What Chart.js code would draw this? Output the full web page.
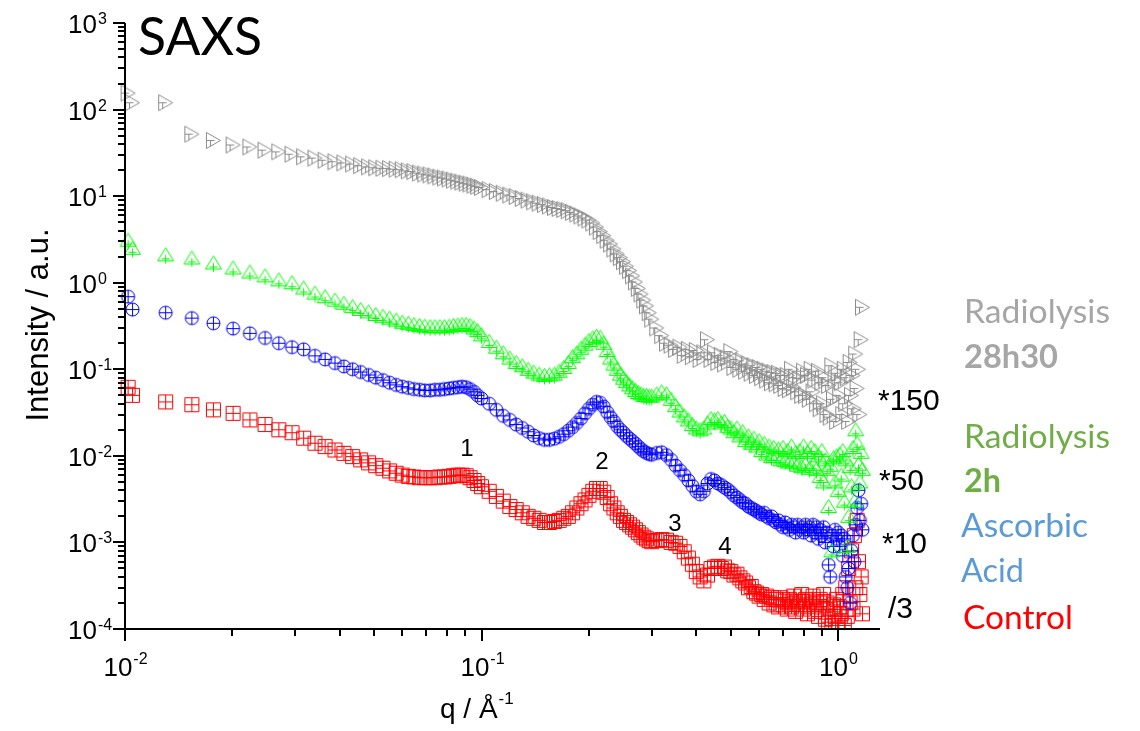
<!DOCTYPE html>
<html>
<head>
<meta charset="utf-8">
<title>SAXS</title>
<script src="https://cdn.jsdelivr.net/npm/chart.js@4.4.1/dist/chart.umd.min.js"></script>
<style>
    html, body { margin: 0; padding: 0; background: #fff; }
    #saxs { display: block; }
</style>
</head>
<body>
<canvas id="saxs" width="1140" height="731"></canvas>
<script>
/**=========================================================
 * SAXS curves, log-log, four samples shifted by a factor
 =========================================================*/

// shared q grid (1/A)
var qValues = [
    0.0102, 0.0105, 0.0130, 0.0154, 0.0177, 0.0201, 0.0224, 0.0247, 0.0270, 0.0294,
    0.0317, 0.0341, 0.0364, 0.0388, 0.0411, 0.0435, 0.0458, 0.0482, 0.0505, 0.0529,
    0.0552, 0.0576, 0.0599, 0.0623, 0.0646, 0.0670, 0.0693, 0.0717, 0.0740, 0.0764,
    0.0787, 0.0811, 0.0834, 0.0858, 0.0881, 0.0905, 0.0928, 0.0952, 0.0975, 0.0999,
    0.105, 0.110, 0.115, 0.120, 0.125, 0.130, 0.135, 0.140, 0.145, 0.150,
    0.155, 0.160, 0.165, 0.170, 0.175, 0.180, 0.185, 0.190, 0.195, 0.200,
    0.205, 0.210, 0.215, 0.220, 0.225, 0.230, 0.235, 0.240, 0.245, 0.250,
    0.255, 0.260, 0.265, 0.270, 0.275, 0.280, 0.285, 0.290, 0.295, 0.300,
    0.31, 0.32, 0.33, 0.34, 0.35, 0.36, 0.37, 0.38, 0.39, 0.40,
    0.41, 0.42, 0.43, 0.44, 0.45, 0.46, 0.47, 0.48, 0.49, 0.50,
    0.51, 0.52, 0.53, 0.54, 0.55, 0.56, 0.57, 0.58, 0.59, 0.60,
    0.61, 0.62, 0.63, 0.64, 0.65, 0.66, 0.67, 0.68, 0.69, 0.70,
    0.71, 0.72, 0.73, 0.74, 0.75, 0.76, 0.77, 0.78, 0.79, 0.80,
    0.81, 0.82, 0.83, 0.84, 0.85, 0.86, 0.87, 0.88, 0.89, 0.90,
    0.91, 0.92, 0.93, 0.94, 0.95, 0.96, 0.97, 0.98, 0.99, 1.00,
    1.01, 1.02, 1.03, 1.04, 1.05, 1.06, 1.07, 1.08, 1.09, 1.10,
    1.11, 1.12, 1.13, 1.14, 1.15, 1.16, 1.17
];

// Radiolysis 28h30 (*150)
var radiolysis28h = [
    155, 120, 120, 52, 44, 39, 37, 34, 32.5, 30.5,
    28.5, 27.5, 26, 25, 24.2, 23.5, 22.5, 21.8, 21.3, 21,
    20.8, 20.5, 20.2, 19.6, 19.2, 18.5, 18, 17.6, 17.1, 16.6,
    16.2, 15.8, 15.3, 14.9, 14.5, 14.1, 13.8, 13.4, 13, 12.6,
    11.9, 11.3, 10.8, 10.3, 9.9, 9.4, 9.0, 8.6, 8.3, 8.0,
    7.7, 7.4, 7.2, 7.0, 6.8, 6.5, 6.2, 5.9, 5.6, 5.3,
    4.9, 4.4, 3.9, 3.5, 3.1, 2.8, 2.45, 2.15, 1.95, 1.75,
    1.55, 1.38, 1.2, 1.02, 0.86, 0.74, 0.63, 0.54, 0.45, 0.38,
    0.30, 0.245, 0.20, 0.19, 0.17, 0.18, 0.145, 0.17, 0.14, 0.165,
    0.13, 0.155, 0.22, 0.13, 0.155, 0.12, 0.145, 0.115, 0.135, 0.16,
    0.105, 0.13, 0.1, 0.125, 0.095, 0.115, 0.09, 0.11, 0.085, 0.105,
    0.08, 0.1, 0.075, 0.095, 0.07, 0.092, 0.068, 0.09, 0.065, 0.085,
    0.06, 0.085, 0.058, 0.1, 0.062, 0.08, 0.055, 0.078, 0.05, 0.095,
    0.05, 0.085, 0.045, 0.1, 0.055, 0.075, 0.04, 0.095, 0.035, 0.07,
    0.04, 0.08, 0.03, 0.065, 0.028, 0.11, 0.045, 0.075, 0.025, 0.09,
    0.05, 0.07, 0.03, 0.1, 0.04, 0.08, 0.025, 0.12, 0.05, 0.085,
    0.035, 0.15, 0.06, 0.1, 0.03, 0.22, 0.52
];

// Radiolysis 2h (*50)
var radiolysis2h = [
    3.1, 2.5, 2.1, 1.93, 1.69, 1.48, 1.33, 1.2, 1.08, 1.0,
    0.87, 0.76, 0.69, 0.63, 0.58, 0.53, 0.49, 0.46, 0.43, 0.41,
    0.39, 0.37, 0.35, 0.34, 0.33, 0.32, 0.315, 0.31, 0.31, 0.31,
    0.31, 0.315, 0.32, 0.325, 0.33, 0.33, 0.32, 0.30, 0.28, 0.25,
    0.21, 0.18, 0.155, 0.135, 0.12, 0.11, 0.10, 0.093, 0.088, 0.085,
    0.086, 0.088, 0.095, 0.105, 0.12, 0.14, 0.155, 0.175, 0.195, 0.215,
    0.23, 0.24, 0.235, 0.2, 0.165, 0.135, 0.115, 0.1, 0.088, 0.079,
    0.072, 0.066, 0.061, 0.057, 0.054, 0.052, 0.05, 0.05, 0.049, 0.049,
    0.052, 0.055, 0.052, 0.045, 0.038, 0.033, 0.029, 0.026, 0.023, 0.021,
    0.02, 0.021, 0.024, 0.027, 0.026, 0.027, 0.024, 0.025, 0.022, 0.021,
    0.019, 0.021, 0.017, 0.019, 0.015, 0.017, 0.014, 0.016, 0.013, 0.015,
    0.0115, 0.014, 0.0105, 0.013, 0.0098, 0.0125, 0.0098, 0.012, 0.009, 0.0125,
    0.0088, 0.0115, 0.0085, 0.013, 0.0085, 0.011, 0.0078, 0.0115, 0.0075, 0.013,
    0.008, 0.011, 0.0072, 0.0125, 0.008, 0.0115, 0.007, 0.01, 0.0058, 0.0115,
    0.005, 0.009, 0.007, 0.0026, 0.0078, 0.0008, 0.0095, 0.005, 0.01, 0.004,
    0.0105, 0.006, 0.0115, 0.003, 0.009, 0.0009, 0.002, 0.0075, 0.0045, 0.0125,
    0.003, 0.02, 0.014, 0.008, 0.005, 0.011, 0.007
];

// Ascorbic acid (*10)
var ascorbicAcid = [
    0.69, 0.49, 0.45, 0.39, 0.34, 0.295, 0.26, 0.23, 0.20, 0.18,
    0.17, 0.143, 0.13, 0.118, 0.108, 0.10, 0.093, 0.086, 0.08, 0.075,
    0.07, 0.066, 0.063, 0.061, 0.059, 0.058, 0.057, 0.057, 0.058, 0.058,
    0.059, 0.06, 0.061, 0.062, 0.063, 0.062, 0.059, 0.055, 0.05, 0.046,
    0.04, 0.034, 0.029, 0.026, 0.023, 0.021, 0.019, 0.0172, 0.016, 0.0153,
    0.0153, 0.0158, 0.0166, 0.0178, 0.0195, 0.0215, 0.024, 0.027, 0.031, 0.035,
    0.039, 0.042, 0.041, 0.037, 0.032, 0.028, 0.025, 0.022, 0.02, 0.0185,
    0.017, 0.0158, 0.0148, 0.0138, 0.0128, 0.012, 0.0113, 0.0108, 0.0105, 0.0103,
    0.0108, 0.011, 0.0102, 0.009, 0.0077, 0.0068, 0.006, 0.0052, 0.0045, 0.0039,
    0.0036, 0.0039, 0.0048, 0.0054, 0.0052, 0.0048, 0.0046, 0.0043, 0.0041, 0.0038,
    0.0035, 0.0033, 0.0031, 0.0029, 0.0028, 0.0026, 0.0025, 0.0024, 0.0023, 0.0022,
    0.0021, 0.0022, 0.002, 0.0019, 0.002, 0.0018, 0.0017, 0.0018, 0.0016, 0.0015,
    0.0017, 0.0015, 0.0014, 0.0016, 0.0015, 0.0013, 0.0016, 0.0014, 0.0015, 0.0013,
    0.0016, 0.0014, 0.0015, 0.0012, 0.0016, 0.0013, 0.0015, 0.0011, 0.0014, 0.0012,
    0.0015, 0.001, 0.0013, 0.00055, 0.0004, 0.0012, 0.0009, 0.0014, 0.0011, 0.0013,
    0.0009, 0.0012, 0.0007, 0.0011, 0.0004, 0.0003, 0.0005, 0.0002, 0.0008, 0.0012,
    0.0006, 0.0016, 0.0025, 0.004, 0.0018, 0.0028, 0.0014
];

// Control (/3)
var control = [
    0.062, 0.05, 0.042, 0.039, 0.034, 0.031, 0.026, 0.023, 0.020, 0.0185,
    0.016, 0.014, 0.0128, 0.0117, 0.0107, 0.0098, 0.009, 0.0083, 0.0077, 0.0072,
    0.0067, 0.0063, 0.006, 0.0058, 0.0057, 0.0056, 0.0056, 0.0056, 0.0056, 0.0057,
    0.0057, 0.0058, 0.0059, 0.006, 0.006, 0.0059, 0.0056, 0.0052, 0.0048, 0.0044,
    0.0039, 0.0034, 0.003, 0.0026, 0.0024, 0.0022, 0.002, 0.0019, 0.0018, 0.0017,
    0.0017, 0.00175, 0.0018, 0.0019, 0.002, 0.0022, 0.0025, 0.0028, 0.0031, 0.0035,
    0.0039, 0.0042, 0.0042, 0.0038, 0.0033, 0.0028, 0.0025, 0.0022, 0.002, 0.0018,
    0.0017, 0.0016, 0.0015, 0.0014, 0.0013, 0.00122, 0.00115, 0.0011, 0.00105, 0.00102,
    0.00105, 0.00108, 0.00106, 0.001, 0.00098, 0.0009, 0.00078, 0.00066, 0.00056, 0.00046,
    0.0004, 0.00036, 0.00042, 0.0005, 0.00052, 0.00053, 0.0005, 0.00052, 0.00047, 0.00046,
    0.00042, 0.00043, 0.00039, 0.00036, 0.00034, 0.0003, 0.00031, 0.00027, 0.00026, 0.00024,
    0.00025, 0.00022, 0.00024, 0.0002, 0.00023, 0.00019, 0.00022, 0.00018, 0.00023, 0.00019,
    0.00021, 0.00017, 0.00022, 0.00018, 0.00024, 0.00016, 0.00021, 0.00019, 0.00025, 0.00017,
    0.00022, 0.00015, 0.00021, 0.00019, 0.00024, 0.00016, 0.0002, 0.00014, 0.00022, 0.00018,
    0.00025, 0.00013, 0.0002, 0.00012, 0.00017, 0.00011, 0.00019, 0.00014, 0.00022, 0.00012,
    0.00018, 0.00015, 0.00025, 0.00011, 0.0003, 0.00014, 0.0005, 0.0002, 0.0008, 0.00017,
    0.0012, 0.0003, 0.0018, 0.0006, 0.00025, 0.0004, 0.00015
];

// axis decades (exponents) and labels
var yExponents = [-4, -3, -2, -1, 0, 1, 2, 3];
var xExponents = [-2, -1, 0];
var peakLabels = ['1', '2', '3', '4'];
var factorLabels = ['*150', '*50', '*10', '/3'];
var sampleLines = ['Radiolysis', '28h30', 'Radiolysis', '2h', 'Ascorbic', 'Acid', 'Control'];

(function () {
    'use strict';

    var SANS = '"Liberation Sans", Arial, sans-serif';
    var CALIBRI = 'Lato, "Open Sans", sans-serif';

    ////////////////////////////////////////////
    // markers: outline + error cross, like Origin

    function makeMarker(shape, color) {
        var c = document.createElement('canvas');
        c.width = 19;
        c.height = 19;
        var g = c.getContext('2d');
        g.strokeStyle = color;
        g.lineWidth = 1;
        g.beginPath();
        if (shape === 'right') {
            g.moveTo(2.5, 1.5); g.lineTo(16.5, 9.5); g.lineTo(2.5, 17.5); g.closePath();
            g.moveTo(2.5, 9.5); g.lineTo(10.5, 9.5);
            g.moveTo(6.5, 9.5); g.lineTo(6.5, 15.5);
        } else if (shape === 'up') {
            g.moveTo(9.5, 2.5); g.lineTo(17.5, 15.5); g.lineTo(1.5, 15.5); g.closePath();
            g.moveTo(5.5, 13.5); g.lineTo(13.5, 13.5);
            g.moveTo(9.5, 9.5); g.lineTo(9.5, 18.5);
        } else if (shape === 'circle') {
            g.arc(9.5, 9.5, 6.5, 0, Math.PI * 2);
            g.moveTo(3, 9.5); g.lineTo(16, 9.5);
            g.moveTo(9.5, 3); g.lineTo(9.5, 16);
        } else {
            g.rect(2.5, 2.5, 14, 14);
            g.moveTo(2.5, 9.5); g.lineTo(16.5, 9.5);
            g.moveTo(9.5, 2.5); g.lineTo(9.5, 16.5);
        }
        g.stroke();
        return c;
    }

    function series(values) {
        return qValues.map(function (q, i) {
            return { x: q, y: values[i] };
        });
    }

    function dataset(label, values, marker, order) {
        return {
            label: label,
            data: series(values),
            pointStyle: marker,
            pointRadius: 7,
            showLine: false,
            order: order,
            clip: { left: 10, top: 10, right: 10, bottom: 0 }
        };
    }

    function line(ctx, x1, y1, x2, y2) {
        ctx.beginPath();
        ctx.moveTo(x1, y1);
        ctx.lineTo(x2, y2);
        ctx.stroke();
    }

    // Calibri is not installed: squeeze Lato to the width Calibri had
    function fitText(ctx, text, x, y, font, width, color) {
        ctx.save();
        ctx.font = font;
        ctx.fillStyle = color;
        ctx.textAlign = 'left';
        ctx.textBaseline = 'alphabetic';
        var w = ctx.measureText(text).width;
        ctx.translate(x, y);
        ctx.scale(width / w, 1);
        ctx.fillText(text, 0, 0);
        ctx.restore();
    }

    ////////////////////////////////////////////
    // axes, ticks, superscript labels and annotations

    var decorations = {
        id: 'decorations',
        afterDatasetsDraw: function (chart) {
            var ctx = chart.ctx;
            var xs = chart.scales.x;
            var ys = chart.scales.y;
            var area = chart.chartArea;
            var m, p, w1, w2, x0;

            ctx.save();
            ctx.strokeStyle = '#000';
            ctx.fillStyle = '#000';
            ctx.lineWidth = 2;
            ctx.beginPath();
            ctx.moveTo(area.left, area.top);
            ctx.lineTo(area.left, area.bottom);
            ctx.lineTo(area.right, area.bottom);
            ctx.stroke();

            // y axis
            yExponents.forEach(function (e, i) {
                var y = Math.round(ys.getPixelForValue(Math.pow(10, e)));
                line(ctx, area.left - 12, y, area.left, y);
                if (i < yExponents.length - 1) {
                    for (m = 2; m <= 9; m++) {
                        p = Math.round(ys.getPixelForValue(m * Math.pow(10, e)));
                        line(ctx, area.left - 7, p, area.left, p);
                    }
                }
                ctx.font = '26px ' + SANS;
                ctx.textAlign = 'right';
                ctx.fillText('10', 97, y + 10);
                ctx.font = '16px ' + SANS;
                ctx.textAlign = 'left';
                ctx.fillText(String(e), 98, y + 1);
            });

            // x axis
            xExponents.forEach(function (e, i) {
                var x = Math.round(xs.getPixelForValue(Math.pow(10, e)));
                line(ctx, x, area.bottom, x, area.bottom + 12);
                if (i < xExponents.length - 1) {
                    for (m = 2; m <= 9; m++) {
                        p = Math.round(xs.getPixelForValue(m * Math.pow(10, e)));
                        line(ctx, p, area.bottom, p, area.bottom + 7);
                    }
                }
                ctx.font = '26px ' + SANS;
                w1 = ctx.measureText('10').width;
                ctx.font = '16px ' + SANS;
                w2 = ctx.measureText(String(e)).width;
                x0 = x - (w1 + w2) / 2;
                ctx.textAlign = 'left';
                ctx.font = '26px ' + SANS;
                ctx.fillText('10', x0, 676);
                ctx.font = '16px ' + SANS;
                ctx.fillText(String(e), x0 + w1 + 1, 664);
            });

            // axis titles
            ctx.font = '28px ' + SANS;
            ctx.textAlign = 'left';
            w1 = ctx.measureText('q / \u00c5').width;
            ctx.fillText('q / \u00c5', 440, 718);
            ctx.font = '17px ' + SANS;
            ctx.fillText('-1', 440 + w1 + 1, 704);

            ctx.save();
            ctx.translate(48, 325);
            ctx.rotate(-Math.PI / 2);
            ctx.font = '31px ' + SANS;
            ctx.textAlign = 'center';
            ctx.fillText('Intensity / a.u.', 0, 0);
            ctx.restore();

            // peak numbers
            ctx.font = '24px ' + SANS;
            ctx.textAlign = 'center';
            ctx.fillText(peakLabels[0], 467, 456);
            ctx.fillText(peakLabels[1], 602, 469);
            ctx.fillText(peakLabels[2], 675, 531);
            ctx.fillText(peakLabels[3], 725, 554);

            // shift factors
            ctx.font = '30px ' + SANS;
            ctx.textAlign = 'left';
            ctx.fillText(factorLabels[0], 878, 410);
            ctx.fillText(factorLabels[1], 879, 490);
            ctx.fillText(factorLabels[2], 882, 553);
            ctx.fillText(factorLabels[3], 888, 618);
            ctx.restore();

            // title and sample names
            fitText(ctx, 'SAXS', 138, 55, '53px ' + CALIBRI, 124, '#000');
            fitText(ctx, sampleLines[0], 964, 323, '33px ' + CALIBRI, 146, '#a6a6a6');
            fitText(ctx, sampleLines[1], 964, 368, 'bold 33px ' + CALIBRI, 94, '#a6a6a6');
            fitText(ctx, sampleLines[2], 964, 448, '33px ' + CALIBRI, 146, '#70ad47');
            fitText(ctx, sampleLines[3], 964, 492, 'bold 33px ' + CALIBRI, 37, '#70ad47');
            fitText(ctx, sampleLines[4], 961, 537, '33px ' + CALIBRI, 127, '#5b9bd5');
            fitText(ctx, sampleLines[5], 961, 582, '33px ' + CALIBRI, 63, '#5b9bd5');
            fitText(ctx, sampleLines[6], 963, 629, '33px ' + CALIBRI, 110, '#ff0000');
        }
    };

    ////////////////////////////////////////////

    var ctx = document.getElementById('saxs').getContext('2d');

    new Chart(ctx, {
        type: 'scatter',
        data: {
            datasets: [
                dataset('Radiolysis 2h', radiolysis2h, makeMarker('up', '#00ff00'), 0),
                dataset('Ascorbic Acid', ascorbicAcid, makeMarker('circle', '#0000ff'), 1),
                dataset('Control', control, makeMarker('square', '#ff0000'), 2),
                dataset('Radiolysis 28h30', radiolysis28h, makeMarker('right', '#8c8c8c'), 3)
            ]
        },
        options: {
            responsive: false,
            animation: false,
            devicePixelRatio: 1,
            layout: { padding: { left: 125, right: 260, top: 23, bottom: 102 } },
            scales: {
                x: { type: 'logarithmic', min: 0.01, max: 1.31, display: false },
                y: { type: 'logarithmic', min: 1e-4, max: 1e3, display: false }
            },
            plugins: {
                legend: { display: false },
                tooltip: { enabled: false }
            }
        },
        plugins: [decorations]
    });

})();
</script>
</body>
</html>
